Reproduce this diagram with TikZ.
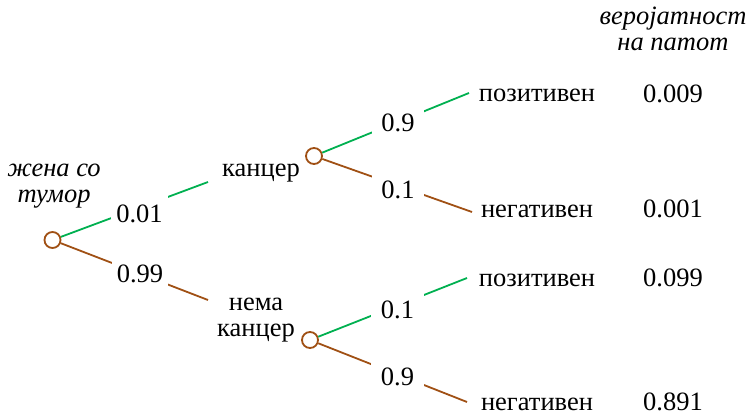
\documentclass[tikz,border=0pt]{standalone}
\usepackage{fontspec}
\setmainfont{Liberation Serif}
\definecolor{tgreen}{RGB}{0,176,80}
\definecolor{tbrown}{RGB}{160,80,20}
\begin{document}
\begin{tikzpicture}[x=1pt,y=-1pt,
  txt/.style={font=\fontsize{26.5}{26}\selectfont, inner sep=0pt, anchor=base},
  chance/.style={circle, draw=tbrown, line width=1.8pt, fill=white, minimum size=16pt, inner sep=0pt},
  lab/.style={font=\fontsize{26.5}{26}\selectfont, fill=white, inner xsep=0pt, inner ysep=12pt, minimum width=#1, anchor=base},
  lab/.default=54pt,
  gline/.style={draw=tgreen, line width=1.8pt},
  bline/.style={draw=tbrown, line width=1.8pt}]
\useasboundingbox (0,0) rectangle (748,415);

% chance nodes
\node[chance] (root) at (52.5,240) {};
\node[chance] (c1) at (314,156) {};
\node[chance] (c2) at (310,340) {};

% text nodes
\node[txt, align=center, font=\fontsize{26.5}{26}\selectfont\itshape] (woman) at (54,202) {жена со\\тумор};
\node[txt] (cancer) at (261,176) {канцер};
\node[txt, align=center] (nocancer) at (256,336) {нема\\канцер};
\node[txt] (pos1) at (537,101) {позитивен};
\node[txt] (neg1) at (537,217) {негативен};
\node[txt] (pos2) at (537,286) {позитивен};
\node[txt] (neg2) at (537,410) {негативен};
\node[txt, align=center, font=\fontsize{26.5}{26}\selectfont\itshape] (head) at (673,50) {веројатност\\на патот};
\node[txt] (p1) at (673,102) {0.009};
\node[txt] (p2) at (673,217) {0.001};
\node[txt] (p3) at (673,286) {0.099};
\node[txt] (p4) at (673,410) {0.891};

% free ends of the branches
\coordinate (e1) at (208,182);
\coordinate (e2) at (208,300);
\coordinate (e3) at (469,93);
\coordinate (e4) at (472,212);
\coordinate (e5) at (467,278);
\coordinate (e6) at (467,402);

% branches
\draw[gline] (root) -- (e1);
\draw[bline] (root) -- (e2);
\draw[gline] (c1) -- (e3);
\draw[bline] (c1) -- (e4);
\draw[gline] (c2) -- (e5);
\draw[bline] (c2) -- (e6);

% probability labels (break the branches)
\node[lab=57pt] (l1) at (139.5,222) {0.01};
\node[lab=56pt] (l2) at (140,282) {0.99};
\node[lab=52pt] (l3) at (398,131) {0.9};
\node[lab=52pt] (l4) at (398,198) {0.1};
\node[lab=53pt] (l5) at (397.5,318) {0.1};
\node[lab=53pt] (l6) at (397.5,385) {0.9};
\end{tikzpicture}
\end{document}
